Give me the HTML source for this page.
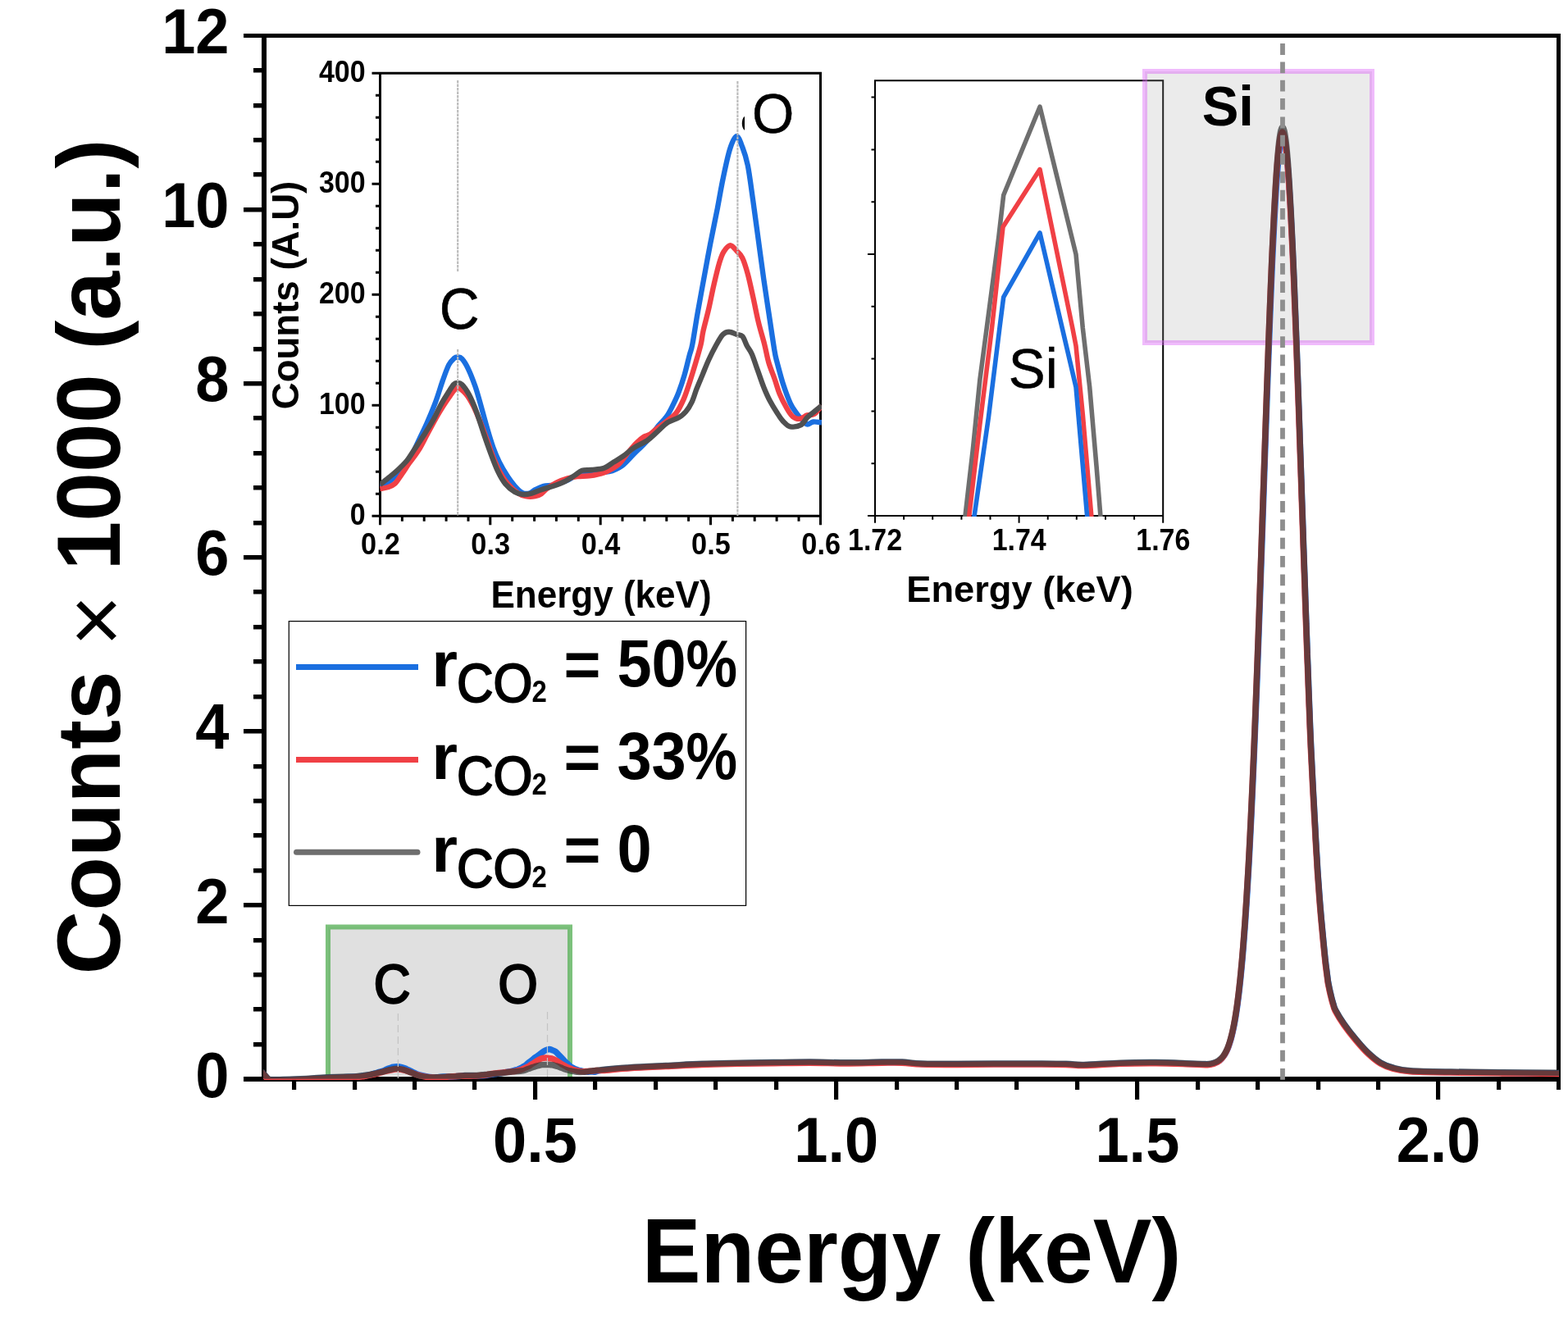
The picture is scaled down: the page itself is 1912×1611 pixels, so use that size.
<!DOCTYPE html>
<html lang="en"><head><meta charset="utf-8"><title>EDS spectra</title>
<style>html,body{margin:0;padding:0;background:#fff;overflow:hidden}svg{display:block}text{font-family:"Liberation Sans",Arial,Helvetica,sans-serif;fill:#000}.b{font-weight:700}</style>
</head><body>
<svg width="1912" height="1611" viewBox="0 0 1912 1611">
<rect width="1912" height="1611" fill="#fff"/>
<g>
<rect x="400" y="1130.6" width="295" height="181.4" fill="#e0e0e0"/>
<path d="M400 1316 V1130.6 H695 V1316" fill="none" stroke="#5fb35f" stroke-opacity="0.82" stroke-width="6"/>
</g>
<g>
<clipPath id="c1"><rect x="463.2" y="89.3" width="538.8" height="540"/></clipPath>
<g stroke="#000" stroke-width="3" fill="none">
<path d="M453.5 89.3 H1000.5 V640.3 H1000.5"/>
<path d="M463.5 89.3 V640.3"/>
<path d="M453.5 629.3 H1000.5"/>
<path d="M458 602.3H463.5M458 575.3H463.5M458 548.3H463.5M458 521.3H463.5M453.5 494.3H463.5M458 467.3H463.5M458 440.3H463.5M458 413.3H463.5M458 386.3H463.5M453.5 359.3H463.5M458 332.3H463.5M458 305.3H463.5M458 278.3H463.5M458 251.3H463.5M453.5 224.3H463.5M458 197.3H463.5M458 170.3H463.5M458 143.3H463.5M458 116.3H463.5M490.4 629.3V635.8M517.2 629.3V635.8M544.1 629.3V635.8M571 629.3V635.8M597.8 629.3V640.3M624.7 629.3V635.8M651.6 629.3V635.8M678.4 629.3V635.8M705.3 629.3V635.8M732.2 629.3V640.3M759 629.3V635.8M785.9 629.3V635.8M812.8 629.3V635.8M839.6 629.3V635.8M866.5 629.3V640.3M893.4 629.3V635.8M920.2 629.3V635.8M947.1 629.3V635.8M974 629.3V635.8"/>
</g>
<g clip-path="url(#c1)" fill="none" stroke-width="6.4" stroke-linejoin="round">
<path d="M463.3 593 C465.6 591.8 472.9 588.7 477 585.5 C481.1 582.3 484.3 578.1 488 574 C491.7 569.9 495.2 566.8 499 560.6 C502.8 554.5 507 544.7 510.6 537.1 C514.2 529.5 517.5 523 520.9 515.2 C524.3 507.4 527.9 498.9 531.1 490.3 C534.3 481.8 537.2 471.5 539.9 463.9 C542.6 456.3 545 449.4 547.3 444.9 C549.6 440.4 552 438.5 553.8 436.9 C555.6 435.3 556.6 435.4 558.2 435.5 C559.8 435.6 561.3 435.3 563.4 437.6 C565.5 439.9 568 443.7 570.7 449.3 C573.4 454.9 576.8 463.5 579.5 471.3 C582.2 479.1 584.4 487.6 586.8 496.1 C589.2 504.6 591.7 514.2 594.1 522.5 C596.5 530.8 599 539.1 601.4 545.9 C603.8 552.7 605.9 557.6 608.8 563.5 C611.7 569.4 615.8 576.2 619 581.1 C622.2 586 624.9 589.5 627.8 592.8 C630.7 596.1 633.7 599.3 636.6 600.8 C639.5 602.3 642.7 602.2 645.4 601.6 C648.1 601 649.8 598.7 652.7 597.2 C655.6 595.7 659.2 593.8 662.9 592.8 C666.6 591.8 670.3 592.5 674.7 591.5 C679.1 590.5 684.9 588.7 689.3 586.9 C693.7 585.1 697.6 582.3 701 580.5 C704.4 578.7 706.4 576.8 709.8 576 C713.2 575.2 716 575.6 721.5 575.5 C727 575.4 736.4 576.5 742.6 575.2 C748.8 573.9 753.6 571.5 758.7 567.9 C763.8 564.2 768.4 558.2 773.3 553.3 C778.2 548.4 783.1 544.2 788 538.6 C792.9 533 798.5 524.7 802.6 519.6 C806.8 514.5 810 512 812.9 507.9 C815.8 503.8 817.8 499.6 820.2 494.7 C822.6 489.8 825.1 485 827.5 478.6 C829.9 472.2 832.6 464.2 834.8 456.6 C837 449 839.1 439.3 840.7 433.2 C842.3 427.1 842.6 428.9 844.3 420 C846 411.1 848.4 394.4 851 379.7 C853.6 365 857.2 345.8 859.7 332 C862.2 318.2 863.7 310.2 866.2 297.2 C868.7 284.2 872.4 266.8 874.9 253.8 C877.4 240.8 878.9 231 881.4 219 C883.9 207 887.2 190.8 890 182 C892.8 173.2 895.6 166.6 898.1 166.2 C900.6 165.8 903 173.6 905.3 179.5 C907.6 185.4 909.6 190.7 911.8 201.6 C914 212.5 916.1 229.9 918.3 245.1 C920.5 260.3 922.6 277 924.8 292.9 C927 308.8 929.1 325.4 931.3 340.6 C933.5 355.8 935.6 369.6 937.8 384.1 C940 398.6 942.8 417.9 944.4 427.5 C946 437.1 945.9 435.2 947.6 442 C949.4 448.8 952.2 460 954.9 468.3 C957.6 476.6 961 485.9 963.7 491.8 C966.4 497.7 968.8 500.3 971 503.5 C973.2 506.7 974.7 508.5 976.9 510.8 C979.1 513.1 981.8 516.8 984.2 517.4 C986.6 518 988.6 514.9 991.5 514.5 C994.4 514.1 1000.1 515.1 1001.8 515.2" stroke="#1a6fe0"/>
<path d="M463.3 596 C464.9 595.7 469.6 595.3 472.6 594.3 C475.6 593.3 478.5 592.6 481.4 589.9 C484.3 587.2 487.2 582.2 490.1 578.1 C493 574 495.5 569.9 498.9 565 C502.3 560.1 506.9 554.8 510.6 548.9 C514.3 543 517.5 536.1 520.9 529.8 C524.3 523.4 527.9 516.4 531.1 510.8 C534.3 505.2 537 500.7 539.9 496.1 C542.8 491.5 545.8 486.8 548.7 483 C551.6 479.2 554.3 473.9 557.5 473.4 C560.7 472.9 564.5 476.4 567.8 480 C571 483.6 574.1 489.1 577 494.7 C579.9 500.3 582.5 506.9 585.3 513.7 C588 520.5 590.8 528.4 593.5 535.7 C596.2 543 598.6 550.8 601.4 557.6 C604.2 564.4 607.3 571.3 610.2 576.7 C613.1 582.1 615.6 585.9 619 589.9 C622.4 593.9 627 598.2 630.7 600.8 C634.4 603.3 637.3 604.5 641 605.2 C644.7 605.9 649.5 605.7 652.7 605.2 C655.9 604.7 657.6 603.9 660 602.3 C662.4 600.7 664.1 598 667.3 595.7 C670.5 593.4 674.9 590.5 679 588.4 C683.1 586.3 688 584.5 692.2 583.3 C696.4 582.1 699.6 581.6 704 581.1 C708.4 580.6 714.2 580.8 718.6 580.3 C723 579.8 726.8 579 730.3 578.1 C733.8 577.2 735.6 577.2 739.6 575.2 C743.6 573.2 749.9 570.3 754.3 566.4 C758.7 562.5 762.3 556.2 766 551.8 C769.7 547.4 773.1 543.3 776.3 540.1 C779.5 536.9 782.3 534.5 785 532.8 C787.7 531.1 789.7 531.5 792.4 529.8 C795.1 528.1 797.7 525.2 801.1 522.5 C804.5 519.8 809 516.9 812.9 513.7 C816.8 510.5 821.2 507.9 824.6 503.5 C828 499.1 830.7 493.5 833.4 487.4 C836.1 481.3 838.3 474.2 840.7 466.9 C843.1 459.6 845.7 451.2 848 443.4 C850.3 435.6 853 426.6 854.6 420 C856.2 413.4 855.9 410.7 857.5 403.6 C859.1 396.5 861.8 387 864 377.6 C866.2 368.2 868.3 356.6 870.5 347.2 C872.7 337.8 875 327.8 877 321.1 C879 314.4 880.2 310.6 882.5 307 C884.8 303.4 887.8 299.3 890.5 299.2 C893.2 299.1 896.3 303.9 898.8 306.5 C901.3 309.1 903.1 310 905.3 314.6 C907.5 319.2 909.6 326.1 911.8 334.1 C914 342.1 916.1 352.6 918.3 362.4 C920.5 372.2 922.5 383.2 924.8 392.8 C927.1 402.4 930.1 411.8 932.2 420 C934.3 428.2 935.2 434.9 937.3 442 C939.4 449.1 942.5 456.2 944.7 462.5 C946.9 468.8 948.1 474.1 950.5 480 C952.9 485.9 956.6 493 959.3 497.6 C962 502.2 963.9 505.7 966.6 507.9 C969.3 510.1 972.5 511.1 975.4 510.8 C978.3 510.6 981.3 507.4 984.2 506.4 C987.1 505.4 990.1 506.8 993 504.9 C995.9 502.9 1000.3 496.4 1001.8 494.7" stroke="#f04045"/>
<path d="M463.3 591 C465.1 589.6 470.5 585.4 474 582.5 C477.5 579.6 480.6 577.2 484.3 573.8 C488 570.4 492.6 566.1 496 562 C499.4 557.9 501.4 554 504.8 548.9 C508.2 543.8 512.6 537.4 516.5 531.3 C520.4 525.2 524.8 518.4 528.2 512.3 C531.6 506.2 534.1 500.1 537 494.7 C539.9 489.3 543.1 484.3 545.8 480 C548.5 475.7 551.1 471.2 553.1 469 C555.1 466.8 555.8 466.9 557.5 466.9 C559.2 466.9 561 466.6 563.4 469 C565.8 471.4 569.2 476 572.1 481.5 C575 487 578 494.2 580.9 502 C583.8 509.8 586.8 519.9 589.7 528.4 C592.6 536.9 595.6 545.5 598.5 553.3 C601.4 561.1 604.4 569.1 607.3 575.2 C610.2 581.3 612.7 585.8 616.1 589.9 C619.5 594 624.1 597.9 627.8 600.1 C631.4 602.3 634.6 602.8 638 603 C641.4 603.2 644.6 602.6 648.3 601.6 C652 600.6 655.6 598.7 660 597.2 C664.4 595.7 669.8 594.5 674.7 592.8 C679.6 591.1 684.9 589.1 689.3 586.9 C693.7 584.7 697.6 581.8 701 579.6 C704.4 577.4 706.4 574.9 709.8 573.8 C713.2 572.7 717 573.5 721.5 573 C726 572.5 732.2 572.4 736.7 570.8 C741.2 569.2 744.5 565.9 748.4 563.5 C752.3 561.1 756 559.1 760.1 556.2 C764.2 553.3 768.4 549.1 773.3 545.9 C778.2 542.7 784.8 540.3 789.4 537.1 C794 533.9 797 530.5 801.1 526.9 C805.2 523.2 809.9 518.1 814.3 515.2 C818.7 512.3 823.8 511.5 827.5 509.3 C831.2 507.1 833.6 505.2 836.3 502 C839 498.8 841.4 494.9 843.6 490.3 C845.8 485.7 847.3 479.8 849.5 474.2 C851.7 468.6 854.4 462.5 856.8 456.6 C859.2 450.7 861.4 444.9 864.1 439 C866.8 433.1 870 426.7 872.9 421.5 C875.8 416.3 878.7 410.8 881.4 408 C884.1 405.2 886.1 404.7 889 404.7 C891.9 404.7 896.1 407.1 898.8 408 C901.5 408.9 903.3 407.9 905.3 410.2 C907.3 412.5 909.1 418.4 911 422 C912.9 425.6 914.6 426.7 916.8 431.7 C919 436.7 921.6 445.4 924.1 452.2 C926.6 459 929 466.6 931.5 472.7 C934 478.8 936.1 483.7 938.8 488.8 C941.5 493.9 944.9 499.4 947.6 503.5 C950.3 507.6 952.2 510.9 954.9 513.7 C957.6 516.5 960 519.6 963.7 520.3 C967.4 521 973.5 519.9 976.9 518.1 C980.3 516.3 981.5 512 984.2 509.3 C986.9 506.6 990.1 504.4 993 502 C995.9 499.6 1000.3 495.9 1001.8 494.7" stroke="#505050"/>
</g>
<g stroke="#b9b9b9" stroke-width="2.1" stroke-dasharray="3.4 1.1" fill="none"><path d="M558.2 98 V332"/><path d="M558.2 426 V629"/><path d="M899.4 99 V629"/></g>
<text class="b" font-size="35" text-anchor="end" transform="translate(445.6 640.1) scale(0.970 1.070)">0</text>
<text class="b" font-size="35" text-anchor="end" transform="translate(445.6 505.1) scale(0.970 1.070)">100</text>
<text class="b" font-size="35" text-anchor="end" transform="translate(445.6 370.1) scale(0.970 1.070)">200</text>
<text class="b" font-size="35" text-anchor="end" transform="translate(445.6 235.1) scale(0.970 1.070)">300</text>
<text class="b" font-size="35" text-anchor="end" transform="translate(445.6 100.1) scale(0.970 1.070)">400</text>
<text class="b" font-size="35" text-anchor="middle" transform="translate(463.9 676) scale(0.980 1.070)">0.2</text>
<text class="b" font-size="35" text-anchor="middle" transform="translate(598.2 676) scale(0.980 1.070)">0.3</text>
<text class="b" font-size="35" text-anchor="middle" transform="translate(732.6 676) scale(0.980 1.070)">0.4</text>
<text class="b" font-size="35" text-anchor="middle" transform="translate(866.9 676) scale(0.980 1.070)">0.5</text>
<text class="b" font-size="35" text-anchor="middle" transform="translate(1001.2 676) scale(0.980 1.070)">0.6</text>
<text class="b" font-size="44.5" text-anchor="middle" transform="translate(733 740.8) scale(0.990 1.030)">Energy (keV)</text>
<text class="b" font-size="45.6" text-anchor="middle" transform="translate(364.2 360) rotate(-90) scale(1.000 1.030)">Counts (A.U)</text>
<text font-size="66" text-anchor="middle" transform="translate(560.1 401.4) scale(1.025 1.070)" stroke="#000" stroke-width="0.5">C</text>
<text font-size="66" text-anchor="middle" transform="translate(942.6 162.4) scale(1.000 1.050)" stroke="#000" stroke-width="0.5">O</text>
<path d="M908 141.8 C905.6 144 904.8 147 904.8 150.5 C904.8 154 905.6 157 908 159.1 Z" fill="#000"/>
</g>
<g>
<clipPath id="c2"><rect x="1067" y="98.2" width="351.2" height="531.8"/></clipPath>
<g stroke="#000" stroke-width="2" fill="none">
<path d="M1067 637.7 V98.2 H1418.2 V637.7"/>
<path d="M1058 629 H1418.2"/>
<path d="M1062.5 565.2H1067M1062.5 501.4H1067M1062.5 437.6H1067M1062.5 373.8H1067M1058 310H1067M1062.5 246.2H1067M1062.5 182.4H1067M1062.5 118.6H1067M1102.1 629V633.7M1137.2 629V633.7M1172.4 629V633.7M1207.5 629V633.7M1242.6 629V637.7M1277.7 629V633.7M1312.8 629V633.7M1348 629V633.7M1383.1 629V633.7"/>
</g>
<g clip-path="url(#c2)" fill="none" stroke-width="5.6" stroke-linejoin="round">
<path d="M1176.5 635 L1177 629 L1186.4 547.4 L1194.8 463.7 L1203.2 400 L1217.8 289.2 L1223.7 238 L1268 130.2 L1312 310.1 L1320.3 400 L1328.7 472 L1337 568.3 L1341.9 629 L1342.4 635" stroke="#6e6e6e"/>
<path d="M1181 635 L1181.8 629 L1194.8 518 L1209.5 400 L1223 276.7 L1268 206.6 L1307.8 400 L1312 421.8 L1320.3 505.5 L1330.8 629 L1331.3 635" stroke="#f04045"/>
<path d="M1187.2 635 L1188.1 629 L1205.3 509.7 L1218.9 400 L1223.7 362.4 L1268 284 L1295.2 400 L1312 472 L1325.6 629 L1326.2 635" stroke="#1a6fe0"/>
</g>
<text class="b" font-size="34.5" text-anchor="middle" transform="translate(1067.1 670.8) scale(0.985 1.080)">1.72</text>
<text class="b" font-size="34.5" text-anchor="middle" transform="translate(1242.7 670.8) scale(0.985 1.080)">1.74</text>
<text class="b" font-size="34.5" text-anchor="middle" transform="translate(1418.3 670.8) scale(0.985 1.080)">1.76</text>
<text class="b" font-size="44.5" text-anchor="middle" transform="translate(1243.5 733.7) scale(1.017 1.000)">Energy (keV)</text>
<text font-size="66" text-anchor="middle" transform="translate(1259.7 472.6) scale(1.020 1.050)" stroke="#000" stroke-width="0.5">Si</text>
</g>
<rect x="1396" y="87" width="277" height="331" fill="#a5a5a5" fill-opacity="0.225"/>
<rect x="1396" y="87" width="277" height="331" fill="none" stroke="#dc5cf7" stroke-opacity="0.42" stroke-width="6"/>
<g>
<rect x="352.3" y="757.6" width="557.3" height="346.8" fill="#fff" stroke="#000" stroke-width="1.2"/>
<path d="M361 813.4 H510" stroke="#1a6fe0" stroke-width="7" stroke-linecap="butt" fill="none"/>
<text class="b" font-size="77" transform="translate(526.3 836.6) scale(1 1.05)"><tspan x="0" font-size="73.3" textLength="31.8" lengthAdjust="spacingAndGlyphs" y="0">r</tspan><tspan x="30.7" font-size="63.3" textLength="92.4" lengthAdjust="spacingAndGlyphs" y="18.5" font-weight="400" stroke="#000" stroke-width="2">CO</tspan><tspan x="122.3" font-size="34.3" textLength="18.3" lengthAdjust="spacingAndGlyphs" y="18.8">2</tspan><tspan font-size="1"> </tspan><tspan x="161.2" font-size="73.3" textLength="45" lengthAdjust="spacingAndGlyphs" y="0">=</tspan><tspan font-size="1"> </tspan><tspan x="226.1" font-size="77" textLength="84.3" lengthAdjust="spacingAndGlyphs" y="0">50</tspan><tspan x="310.1" font-size="77" textLength="62.6" lengthAdjust="spacingAndGlyphs" y="0">%</tspan></text>
<path d="M361 926.4 H510" stroke="#f04045" stroke-width="7" stroke-linecap="butt" fill="none"/>
<text class="b" font-size="77" transform="translate(526.3 949.7) scale(1 1.05)"><tspan x="0" font-size="73.3" textLength="31.8" lengthAdjust="spacingAndGlyphs" y="0">r</tspan><tspan x="30.7" font-size="63.3" textLength="92.4" lengthAdjust="spacingAndGlyphs" y="18.5" font-weight="400" stroke="#000" stroke-width="2">CO</tspan><tspan x="122.3" font-size="34.3" textLength="18.3" lengthAdjust="spacingAndGlyphs" y="18.8">2</tspan><tspan font-size="1"> </tspan><tspan x="161.2" font-size="73.3" textLength="45" lengthAdjust="spacingAndGlyphs" y="0">=</tspan><tspan font-size="1"> </tspan><tspan x="226.1" font-size="77" textLength="84.3" lengthAdjust="spacingAndGlyphs" y="0">33</tspan><tspan x="310.1" font-size="77" textLength="62.6" lengthAdjust="spacingAndGlyphs" y="0">%</tspan></text>
<path d="M361.5 1039.3 H509" stroke="#6e6e6e" stroke-width="7" stroke-linecap="round" fill="none"/>
<text class="b" font-size="77" transform="translate(526.3 1062.6) scale(1 1.05)"><tspan x="0" font-size="73.3" textLength="31.8" lengthAdjust="spacingAndGlyphs" y="0">r</tspan><tspan x="30.7" font-size="63.3" textLength="92.4" lengthAdjust="spacingAndGlyphs" y="18.5" font-weight="400" stroke="#000" stroke-width="2">CO</tspan><tspan x="122.3" font-size="34.3" textLength="18.3" lengthAdjust="spacingAndGlyphs" y="18.8">2</tspan><tspan font-size="1"> </tspan><tspan x="161.2" font-size="73.3" textLength="45" lengthAdjust="spacingAndGlyphs" y="0">=</tspan><tspan font-size="1"> </tspan><tspan x="226.1" font-size="77" textLength="42.2" lengthAdjust="spacingAndGlyphs" y="0">0</tspan></text>
</g>
<path d="M297 41H1903V46H297ZM297 1313H1903V1319H297ZM319 41H325V1319H319ZM1898 41H1903V1329H1898ZM309 1271H320V1276.5H309ZM309 1228H320V1233.5H309ZM309 1186H320V1191.5H309ZM309 1144H320V1149.5H309ZM297 1101H320V1106.5H297ZM309 1059H320V1064.5H309ZM309 1016H320V1021.5H309ZM309 974H320V979.5H309ZM309 932H320V937.5H309ZM297 889H320V894.5H297ZM309 847H320V852.5H309ZM309 804H320V809.5H309ZM309 762H320V767.5H309ZM309 719H320V724.5H309ZM297 677H320V682.5H297ZM309 635H320V640.5H309ZM309 592H320V597.5H309ZM309 550H320V555.5H309ZM309 507H320V512.5H309ZM297 465H320V470.5H297ZM309 423H320V428.5H309ZM309 380H320V385.5H309ZM309 338H320V343.5H309ZM309 295H320V300.5H309ZM297 253H320V258.5H297ZM309 210H320V215.5H309ZM309 168H320V173.5H309ZM309 126H320V131.5H309ZM309 83H320V88.5H309ZM356 1318H361.2V1329H356ZM430 1318H435.2V1329H430ZM503 1318H508.2V1329H503ZM576 1318H581.2V1329H576ZM650 1318H655.2V1341H650ZM723 1318H728.2V1329H723ZM797 1318H802.2V1329H797ZM870 1318H875.2V1329H870ZM944 1318H949.2V1329H944ZM1017 1318H1022.2V1341H1017ZM1091 1318H1096.2V1329H1091ZM1164 1318H1169.2V1329H1164ZM1237 1318H1242.2V1329H1237ZM1311 1318H1316.2V1329H1311ZM1384 1318H1389.2V1341H1384ZM1458 1318H1463.2V1329H1458ZM1531 1318H1536.2V1329H1531ZM1605 1318H1610.2V1329H1605ZM1678 1318H1683.2V1329H1678ZM1751 1318H1756.2V1341H1751ZM1825 1318H1830.2V1329H1825Z" fill="#000"/>
<clipPath id="cm"><rect x="321" y="43" width="1580" height="1274.1"/></clipPath><clipPath id="cmg"><rect x="321" y="43" width="1580" height="1272.8"/></clipPath>
<g fill="none" stroke-width="7.5" stroke-linejoin="round" stroke-linecap="butt">
<path clip-path="url(#cm)" d="M319 1307 C319.7 1307.8 321.6 1310 323 1311.5 C324.4 1313 326 1315.3 327.5 1316.3 C329 1317.3 329.1 1317.2 332 1317.3 C334.9 1317.4 340.3 1317.2 345 1317.1 C349.7 1317 354.2 1316.9 360 1316.6 C365.8 1316.3 373.3 1315.9 380 1315.5 C386.7 1315.1 394.1 1314.6 400 1314.3 C405.9 1314 410.3 1313.9 415.6 1313.7 C420.9 1313.5 428.1 1313.3 432.1 1313.1 C436 1313 437.3 1312.8 439.5 1312.6 C441.8 1312.3 443.5 1312 445.6 1311.7 C447.6 1311.3 449.5 1311.1 451.6 1310.6 C453.6 1310.1 455.9 1309.4 457.9 1308.8 C459.9 1308.2 461.7 1307.7 463.5 1307 C465.4 1306.4 467.4 1305.8 469.1 1305.1 C470.8 1304.4 472.5 1303.6 473.9 1303 C475.4 1302.4 476.7 1301.9 478 1301.5 C479.2 1301.2 480.5 1301 481.5 1300.9 C482.5 1300.8 483.1 1300.8 483.9 1300.8 C484.8 1300.8 485.6 1300.8 486.8 1300.9 C487.9 1301.1 489.3 1301.4 490.8 1301.9 C492.2 1302.3 494.1 1303 495.6 1303.6 C497 1304.2 498.2 1304.9 499.6 1305.5 C500.9 1306.2 502.2 1307 503.6 1307.6 C504.9 1308.3 506.2 1308.9 507.6 1309.5 C508.9 1310 510 1310.4 511.6 1310.8 C513.2 1311.3 515.4 1311.8 517.2 1312.2 C518.9 1312.6 520.4 1312.9 522 1313.1 C523.6 1313.4 525.2 1313.6 526.8 1313.8 C528.4 1313.9 530.1 1313.9 531.6 1313.8 C533.1 1313.8 534 1313.6 535.6 1313.5 C537.2 1313.4 539.2 1313.2 541.2 1313.1 C543.2 1313.1 545.2 1313.1 547.6 1313 C550 1313 553.2 1312.8 555.6 1312.7 C558 1312.5 560.1 1312.3 562 1312.2 C563.9 1312 564.9 1311.9 566.8 1311.8 C568.7 1311.7 570.2 1311.8 573.2 1311.8 C576.2 1311.8 581.4 1311.9 584.7 1311.8 C588.1 1311.7 590.8 1311.5 593.5 1311.2 C596.3 1310.9 598.9 1310.4 601.5 1310 C604.2 1309.6 606.9 1309.3 609.6 1308.9 C612.2 1308.4 615.3 1307.8 617.6 1307.4 C619.8 1307 621.6 1306.8 623.2 1306.5 C624.8 1306.1 625.8 1305.8 627.2 1305.4 C628.5 1305 629.8 1304.7 631.2 1304.2 C632.5 1303.7 634 1303 635.2 1302.4 C636.4 1301.8 637.5 1301.1 638.4 1300.6 C639.2 1300.1 639.4 1300.3 640.3 1299.6 C641.3 1298.9 642.6 1297.6 644 1296.4 C645.4 1295.3 647.4 1293.7 648.8 1292.7 C650.2 1291.6 650.9 1290.9 652.3 1289.9 C653.7 1288.9 655.7 1287.5 657.1 1286.5 C658.5 1285.5 659.3 1284.7 660.6 1283.8 C662 1282.8 663.8 1281.6 665.3 1280.9 C666.9 1280.2 668.4 1279.7 669.8 1279.6 C671.2 1279.6 672.4 1280.2 673.7 1280.7 C674.9 1281.1 676.1 1281.6 677.3 1282.4 C678.4 1283.3 679.6 1284.6 680.8 1285.8 C682 1287 683.2 1288.3 684.4 1289.6 C685.5 1290.8 686.7 1292.1 687.9 1293.3 C689.1 1294.5 690.3 1295.6 691.5 1296.7 C692.7 1297.9 694.2 1299.4 695.1 1300.2 C696 1300.9 695.9 1300.8 696.8 1301.3 C697.8 1301.8 699.3 1302.7 700.8 1303.4 C702.3 1304 704.2 1304.7 705.6 1305.2 C707.1 1305.7 708.4 1305.9 709.6 1306.1 C710.8 1306.4 711.6 1306.5 712.8 1306.7 C714 1306.9 715.5 1307.2 716.8 1307.2 C718.2 1307.3 719.2 1307 720.8 1307 C722.4 1307 724.1 1307.4 726.5 1307 C728.8 1306.7 728.1 1305.7 735 1304.9 C741.9 1304.1 755.1 1303 767.9 1302.2 C780.7 1301.4 797.2 1300.7 811.8 1300 C826.4 1299.3 841.1 1298.3 855.7 1297.8 C870.4 1297.2 885.1 1297 899.7 1296.7 C914.4 1296.4 929 1296.3 943.6 1296.1 C958.2 1295.9 973 1295.6 987.6 1295.6 C1002.2 1295.6 1016.9 1296.3 1031.5 1296.3 C1046.1 1296.3 1064 1295.7 1075.4 1295.6 C1086.8 1295.5 1091.9 1295.3 1100 1295.6 C1108.1 1295.9 1112.6 1297 1123.9 1297.4 C1135.2 1297.8 1153.2 1297.8 1167.9 1297.8 C1182.6 1297.8 1197.2 1297.5 1211.8 1297.4 C1226.4 1297.3 1241 1297.3 1255.7 1297.4 C1270.4 1297.5 1288.7 1297.5 1299.7 1297.8 C1310.7 1298 1310.6 1299.1 1321.6 1298.9 C1332.6 1298.7 1350.9 1297.2 1365.6 1296.7 C1380.2 1296.2 1394.9 1296 1409.5 1296.1 C1424.1 1296.2 1443.3 1297.1 1453.4 1297.4 C1463.5 1297.7 1466.5 1298 1470 1298.1 C1473.5 1298.2 1473.2 1298 1474.3 1297.9 C1475.3 1297.8 1475.6 1297.7 1476.3 1297.6 C1477 1297.5 1477.6 1297.4 1478.3 1297.2 C1479 1297 1479.6 1296.9 1480.3 1296.7 C1481 1296.5 1481.6 1296.2 1482.3 1296 C1483 1295.7 1483.6 1295.4 1484.3 1295 C1485 1294.7 1485.6 1294.3 1486.3 1293.8 C1487 1293.4 1487.6 1292.9 1488.3 1292.3 C1489 1291.7 1489.6 1291 1490.3 1290.3 C1491 1289.5 1491.6 1288.7 1492.3 1287.8 C1493 1286.8 1493.6 1285.8 1494.3 1284.6 C1495 1283.4 1495.6 1282.1 1496.3 1280.7 C1497 1279.2 1497.6 1277.6 1498.3 1275.8 C1499 1273.9 1499.6 1272 1500.3 1269.7 C1501 1267.5 1501.6 1265.1 1502.3 1262.4 C1503 1259.7 1503.6 1256.8 1504.3 1253.5 C1505 1250.3 1505.6 1246.8 1506.3 1242.9 C1507 1239 1507.6 1234.8 1508.3 1230.2 C1509 1225.6 1509.6 1220.7 1510.3 1215.3 C1511 1209.9 1511.6 1204.1 1512.3 1197.8 C1513 1191.6 1513.6 1184.9 1514.3 1177.6 C1515 1170.4 1515.6 1162.6 1516.3 1154.4 C1517 1146.1 1517.6 1137.3 1518.3 1127.9 C1519 1118.5 1519.6 1108.6 1520.3 1098 C1521 1087.4 1521.6 1076.3 1522.3 1064.6 C1523 1052.8 1523.8 1037.7 1524.3 1027.5 C1524.8 1017.4 1525.1 1011.8 1525.5 1003.6 C1525.9 995.4 1526.3 986.9 1526.7 978.3 C1527.1 969.7 1527.5 960.8 1527.9 951.8 C1528.3 942.7 1528.7 933.5 1529.1 924 C1529.5 914.6 1529.9 904.9 1530.3 895.1 C1530.7 885.3 1531.1 875.2 1531.5 865 C1531.9 854.9 1532.3 844.5 1532.7 834 C1533.1 823.5 1533.5 812.8 1533.9 802 C1534.3 791.2 1534.7 780.2 1535.1 769.1 C1535.5 758.1 1535.9 746.9 1536.3 735.6 C1536.7 724.3 1537.1 712.9 1537.5 701.4 C1537.9 690 1538.3 678.4 1538.7 666.9 C1539.1 655.3 1539.5 643.7 1539.9 632 C1540.3 620.4 1540.7 608.7 1541.1 597.1 C1541.5 585.5 1541.9 573.8 1542.3 562.2 C1542.7 550.7 1543.1 539.1 1543.5 527.6 C1543.9 516.2 1544.3 504.8 1544.7 493.5 C1545.1 482.2 1545.5 471 1545.9 460 C1546.3 449 1546.7 438.1 1547.1 427.4 C1547.5 416.7 1547.9 406.2 1548.3 395.9 C1548.7 385.6 1549.2 373.5 1549.5 365.6 C1549.8 357.8 1549.8 359.1 1550.2 348.7 C1550.6 338.3 1551.5 317.5 1552.2 303.3 C1552.9 289.1 1553.5 275.6 1554.2 263.2 C1554.9 250.9 1555.5 239.4 1556.2 229.2 C1556.9 219 1557.5 209.9 1558.2 202 C1558.9 194.2 1559.5 187.5 1560.2 182.1 C1560.9 176.8 1561.5 172.7 1562.2 170.1 C1562.9 167.4 1563.5 166 1564.2 166 C1564.9 166 1565.5 167.4 1566.2 170.1 C1566.9 172.7 1567.5 176.8 1568.2 182.1 C1568.9 187.5 1569.5 194.2 1570.2 202 C1570.9 209.9 1571.5 219 1572.2 229.2 C1572.9 239.4 1573.5 250.9 1574.2 263.2 C1574.9 275.6 1575.5 289.1 1576.2 303.3 C1576.9 317.5 1577.8 339.5 1578.2 348.7 C1578.6 357.9 1578.4 354.6 1578.6 358.6 C1578.7 362.5 1579 367.8 1579.1 372.4 C1579.3 377.1 1579.5 381.7 1579.7 386.3 C1579.9 390.9 1580.1 395.6 1580.2 400.2 C1580.4 404.8 1580.6 409.4 1580.8 414.1 C1580.9 418.7 1581.1 423.3 1581.3 427.9 C1581.5 432.6 1581.6 437.2 1581.8 441.8 C1582 446.4 1582.1 451.1 1582.3 455.7 C1582.5 460.3 1582.6 464.9 1582.8 469.6 C1583 474.2 1583.1 478.8 1583.3 483.4 C1583.5 488.1 1583.6 492.7 1583.8 497.3 C1584 501.9 1584.1 506.6 1584.3 511.2 C1584.4 515.8 1584.6 520.4 1584.8 525.1 C1584.9 529.7 1585.1 534.3 1585.2 538.9 C1585.4 543.6 1585.6 548.2 1585.7 552.8 C1585.9 557.4 1586 562.1 1586.2 566.7 C1586.4 571.3 1586.5 575.9 1586.7 580.6 C1586.8 585.2 1587 589.8 1587.2 594.4 C1587.3 599.1 1587.5 603.7 1587.6 608.3 C1587.8 613 1587.9 617.6 1588.1 622.2 C1588.3 626.8 1588.4 631.5 1588.6 636.1 C1588.7 640.7 1588.9 645.3 1589.1 650 C1589.2 654.6 1589.4 659.2 1589.5 663.8 C1589.7 668.5 1589.8 673.1 1590 677.7 C1590.2 682.3 1590.3 687 1590.5 691.6 C1590.6 696.2 1590.8 700.8 1591 705.5 C1591.1 710.1 1591.3 714.7 1591.5 719.3 C1591.6 724 1591.8 728.6 1591.9 733.2 C1592.1 737.8 1592.3 742.5 1592.4 747.1 C1592.6 751.7 1592.8 756.3 1592.9 761 C1593.1 765.6 1593.3 770.2 1593.4 774.8 C1593.6 779.5 1593.8 784.1 1593.9 788.7 C1594.1 793.4 1594.3 798 1594.4 802.6 C1594.6 807.2 1594.8 811.9 1595 816.5 C1595.1 821.1 1595.3 825.7 1595.5 830.4 C1595.6 835 1595.8 839.6 1596 844.2 C1596.2 848.9 1596.4 853.5 1596.5 858.1 C1596.7 862.7 1596.9 867.4 1597.1 872 C1597.3 876.6 1597.4 881.2 1597.6 885.9 C1597.8 890.5 1598 895.1 1598.2 899.7 C1598.4 904.4 1598.6 909 1598.8 913.6 C1599 918.2 1599.3 922.9 1599.5 927.5 C1599.7 932.1 1600 936.7 1600.2 941.4 C1600.4 946 1600.7 950.6 1600.9 955.2 C1601.1 959.9 1601.4 964.5 1601.6 969.1 C1601.9 973.8 1602.1 978.4 1602.4 983 C1602.6 987.6 1602.9 992.3 1603.1 996.9 C1603.4 1001.5 1603.6 1006.1 1603.9 1010.7 C1604.1 1015.4 1604.4 1020 1604.6 1024.6 C1604.9 1029.2 1605.2 1033.9 1605.4 1038.5 C1605.7 1043.1 1606 1047.7 1606.3 1052.3 C1606.5 1057 1606.8 1061.6 1607.1 1066.2 C1607.4 1070.8 1607.8 1075.5 1608.1 1080.1 C1608.4 1084.7 1608.8 1089.3 1609.1 1093.9 C1609.5 1098.6 1609.8 1103.2 1610.2 1107.8 C1610.6 1112.4 1611 1117 1611.4 1121.7 C1611.8 1126.3 1612.3 1130.9 1612.7 1135.5 C1613.1 1140.2 1613.6 1144.8 1614 1149.4 C1614.5 1154 1615 1159.8 1615.4 1163.3 C1615.7 1166.7 1615.9 1167.9 1616.1 1170.2 C1616.4 1172.5 1616.6 1174.8 1616.9 1177.1 C1617.2 1179.4 1617.5 1181.8 1617.8 1184.1 C1618.1 1186.4 1618.4 1188.7 1618.7 1191 C1619 1193.3 1619.3 1195.6 1619.6 1197.9 C1620 1200.2 1620.5 1202.5 1621 1204.9 C1621.4 1207.2 1622 1209.5 1622.5 1211.8 C1623.1 1214.1 1623.6 1216.4 1624.2 1218.7 C1624.8 1221 1625.4 1223.3 1626.2 1225.7 C1626.9 1228 1626.5 1228.6 1628.7 1232.6 C1630.8 1236.5 1634.9 1243.4 1639.1 1249.4 C1643.3 1255.4 1649 1262.6 1654 1268.5 C1659 1274.4 1663.9 1280.1 1668.9 1284.7 C1673.9 1289.4 1678.8 1293.6 1683.8 1296.5 C1688.8 1299.5 1692.6 1300.9 1698.7 1302.5 C1704.8 1304.1 1708.5 1305.4 1720.3 1306.2 C1732 1307 1750.6 1307.2 1769.2 1307.5 C1787.8 1307.8 1810 1308.1 1832 1308.3 C1854 1308.5 1888.6 1308.7 1901 1308.8 C1913.4 1308.9 1905.4 1308.8 1906.3 1308.8" stroke="#1a6fe0"/>
<path clip-path="url(#cm)" d="M319 1307.6 C319.7 1308.3 321.6 1310.5 323 1312.1 C324.4 1313.6 326 1315.9 327.5 1316.9 C329 1317.9 329.1 1317.8 332 1317.9 C334.9 1318 340.3 1317.8 345 1317.7 C349.7 1317.6 354.2 1317.5 360 1317.2 C365.8 1316.9 373.3 1316.5 380 1316.1 C386.7 1315.7 394.1 1315.2 400 1314.9 C405.9 1314.6 410.3 1314.6 415.6 1314.3 C420.9 1314 428.5 1313.6 432.1 1313.4 C435.6 1313.2 435.5 1313.3 437.1 1313.3 C438.8 1313.2 440.4 1313.1 441.9 1312.9 C443.5 1312.7 445.1 1312.3 446.7 1312 C448.3 1311.7 449.6 1311.3 451.5 1311 C453.4 1310.6 455.9 1310.1 457.9 1309.7 C459.9 1309.2 461.7 1308.7 463.5 1308.2 C465.4 1307.7 467.4 1307.1 469.1 1306.7 C470.8 1306.3 472.3 1305.9 473.9 1305.5 C475.5 1305.2 477.1 1304.8 478.7 1304.5 C480.3 1304.2 481.8 1303.8 483.6 1303.8 C485.3 1303.7 487.4 1304 489.2 1304.3 C491 1304.6 492.6 1305 494.2 1305.4 C495.8 1305.9 497.2 1306.4 498.7 1306.9 C500.3 1307.5 501.8 1308.1 503.2 1308.7 C504.7 1309.2 506 1309.8 507.6 1310.4 C509.1 1310.9 510.8 1311.4 512.4 1311.9 C514 1312.3 515.3 1312.6 517.2 1312.9 C519 1313.2 521.6 1313.6 523.6 1313.8 C525.6 1314 527.2 1314.1 529.2 1314.1 C531.2 1314.2 533.9 1314.1 535.6 1314.1 C537.3 1314.1 538.3 1314 539.6 1313.9 C540.9 1313.8 541.8 1313.5 543.6 1313.4 C545.3 1313.2 547.7 1313 550 1312.8 C552.2 1312.6 554.9 1312.5 557.2 1312.4 C559.5 1312.3 561.2 1312.3 563.6 1312.2 C566.1 1312.2 569.2 1312.2 571.6 1312.2 C574 1312.1 576.1 1312 578 1312 C579.9 1311.9 580.9 1311.9 583.1 1311.8 C585.3 1311.6 588.7 1311.4 591.1 1311.1 C593.5 1310.8 595.5 1310.3 597.5 1309.9 C599.5 1309.6 601.4 1309.2 603.2 1309 C604.9 1308.7 606.5 1308.6 607.9 1308.4 C609.4 1308.3 610.5 1308.3 612 1308.2 C613.4 1308.1 614.9 1307.8 616.7 1307.6 C618.6 1307.4 621 1307.2 623.2 1306.9 C625.3 1306.7 627.7 1306.5 629.6 1306.1 C631.4 1305.8 632.9 1305.3 634.4 1304.9 C635.9 1304.4 637 1303.8 638.4 1303.2 C639.7 1302.7 641.1 1302 642.4 1301.4 C643.6 1300.8 645.1 1300.1 646 1299.6 C646.8 1299 646.7 1298.8 647.6 1298.3 C648.4 1297.7 649.9 1297 651.1 1296.2 C652.3 1295.5 653.5 1294.6 654.7 1293.8 C655.9 1293.1 657.1 1292.3 658.2 1291.8 C659.3 1291.3 660 1291 661.2 1290.7 C662.5 1290.4 664.1 1290.1 665.6 1290.1 C667.1 1290.1 668.8 1290.5 670.1 1290.7 C671.5 1290.9 672.5 1290.9 673.7 1291.3 C674.9 1291.7 676.1 1292.2 677.3 1292.8 C678.4 1293.4 679.6 1294.3 680.8 1295 C682 1295.8 683.1 1296.7 684.4 1297.4 C685.6 1298.2 687.3 1298.9 688.4 1299.6 C689.5 1300.2 690.1 1300.7 691.2 1301.3 C692.3 1301.8 694 1302.4 695.2 1302.9 C696.4 1303.4 697.1 1303.8 698.4 1304.3 C699.7 1304.7 701.8 1305.3 703.2 1305.7 C704.7 1306 705.7 1306.3 707.2 1306.5 C708.7 1306.6 710.4 1306.7 712 1306.7 C713.6 1306.7 715.2 1306.4 716.8 1306.4 C718.4 1306.3 720 1306.4 721.6 1306.2 C723.2 1306.1 724.2 1305.6 726.5 1305.4 C728.7 1305.3 728.1 1305.9 735 1305.5 C741.9 1305.1 755.1 1303.6 767.9 1302.8 C780.7 1302 797.2 1301.3 811.8 1300.6 C826.4 1299.9 841.1 1298.9 855.7 1298.4 C870.4 1297.8 885.1 1297.6 899.7 1297.3 C914.4 1297 929 1296.9 943.6 1296.7 C958.2 1296.5 973 1296.2 987.6 1296.2 C1002.2 1296.2 1016.9 1296.9 1031.5 1296.9 C1046.1 1296.9 1064 1296.3 1075.4 1296.2 C1086.8 1296.1 1091.9 1295.9 1100 1296.2 C1108.1 1296.5 1112.6 1297.6 1123.9 1298 C1135.2 1298.4 1153.2 1298.4 1167.9 1298.4 C1182.6 1298.4 1197.2 1298.1 1211.8 1298 C1226.4 1297.9 1241 1297.9 1255.7 1298 C1270.4 1298.1 1288.7 1298.1 1299.7 1298.4 C1310.7 1298.6 1310.6 1299.7 1321.6 1299.5 C1332.6 1299.3 1350.9 1297.8 1365.6 1297.3 C1380.2 1296.8 1394.9 1296.6 1409.5 1296.7 C1424.1 1296.8 1443.3 1297.7 1453.4 1298 C1463.5 1298.3 1466.6 1298.6 1470 1298.7 C1473.4 1298.8 1472.8 1298.6 1473.8 1298.5 C1474.8 1298.4 1475.1 1298.3 1475.8 1298.2 C1476.5 1298.1 1477.1 1297.9 1477.8 1297.8 C1478.5 1297.6 1479.1 1297.5 1479.8 1297.3 C1480.5 1297 1481.1 1296.8 1481.8 1296.5 C1482.5 1296.3 1483.1 1296 1483.8 1295.6 C1484.5 1295.3 1485.1 1294.9 1485.8 1294.4 C1486.5 1293.9 1487.1 1293.4 1487.8 1292.8 C1488.5 1292.3 1489.1 1291.6 1489.8 1290.9 C1490.5 1290.1 1491.1 1289.3 1491.8 1288.3 C1492.5 1287.4 1493.1 1286.3 1493.8 1285.1 C1494.5 1284 1495.1 1282.7 1495.8 1281.2 C1496.5 1279.7 1497.1 1278.1 1497.8 1276.3 C1498.5 1274.4 1499.1 1272.4 1499.8 1270.2 C1500.5 1268 1501.1 1265.5 1501.8 1262.8 C1502.5 1260.1 1503.1 1257.2 1503.8 1253.9 C1504.5 1250.6 1505.1 1247.1 1505.8 1243.2 C1506.5 1239.3 1507.1 1235.1 1507.8 1230.5 C1508.5 1225.9 1509.1 1220.9 1509.8 1215.5 C1510.5 1210.1 1511.1 1204.3 1511.8 1198 C1512.5 1191.7 1513.1 1184.9 1513.8 1177.7 C1514.5 1170.4 1515.1 1162.6 1515.8 1154.3 C1516.5 1146 1517.1 1137.2 1517.8 1127.7 C1518.5 1118.3 1519.1 1108.3 1519.8 1097.7 C1520.5 1087.1 1521.1 1075.9 1521.8 1064.1 C1522.5 1052.3 1523.3 1037.2 1523.8 1026.9 C1524.3 1016.7 1524.6 1011.1 1525 1002.9 C1525.4 994.6 1525.8 986.1 1526.2 977.5 C1526.6 968.8 1527 959.9 1527.4 950.8 C1527.8 941.7 1528.2 932.4 1528.6 922.9 C1529 913.4 1529.4 903.7 1529.8 893.8 C1530.2 883.9 1530.6 873.8 1531 863.6 C1531.4 853.4 1531.8 842.9 1532.2 832.4 C1532.6 821.8 1533 811 1533.4 800.2 C1533.8 789.3 1534.2 778.3 1534.6 767.2 C1535 756 1535.4 744.8 1535.8 733.4 C1536.2 722.1 1536.6 710.6 1537 699.1 C1537.4 687.6 1537.8 676 1538.2 664.4 C1538.6 652.7 1539 641 1539.4 629.3 C1539.8 617.6 1540.2 605.9 1540.6 594.2 C1541 582.5 1541.4 570.8 1541.8 559.1 C1542.2 547.5 1542.6 535.9 1543 524.4 C1543.4 512.8 1543.8 501.4 1544.2 490 C1544.6 478.7 1545 467.5 1545.4 456.4 C1545.8 445.3 1546.2 434.3 1546.6 423.6 C1547 412.9 1547.4 402.2 1547.8 391.9 C1548.2 381.6 1548.7 369.4 1549 361.5 C1549.3 353.6 1549.3 354.9 1549.7 344.5 C1550.1 334 1551 313.2 1551.7 298.9 C1552.4 284.6 1553 271 1553.7 258.6 C1554.4 246.2 1555 234.7 1555.7 224.5 C1556.4 214.2 1557 205 1557.7 197.2 C1558.4 189.3 1559 182.6 1559.7 177.2 C1560.4 171.9 1561 167.8 1561.7 165.1 C1562.4 162.4 1563 161 1563.7 161 C1564.4 161 1565 162.4 1565.7 165.1 C1566.4 167.8 1567 171.9 1567.7 177.2 C1568.4 182.6 1569 189.3 1569.7 197.2 C1570.4 205 1571 214.2 1571.7 224.5 C1572.4 234.7 1573 246.2 1573.7 258.6 C1574.4 271 1575 284.6 1575.7 298.9 C1576.4 313.2 1577.3 335.2 1577.7 344.5 C1578.1 353.7 1577.9 350.4 1578.1 354.4 C1578.2 358.4 1578.5 363.7 1578.6 368.4 C1578.8 373 1579 377.6 1579.2 382.3 C1579.4 386.9 1579.6 391.6 1579.7 396.2 C1579.9 400.9 1580.1 405.5 1580.3 410.2 C1580.4 414.8 1580.6 419.5 1580.8 424.1 C1581 428.8 1581.1 433.4 1581.3 438.1 C1581.5 442.7 1581.6 447.4 1581.8 452 C1582 456.7 1582.1 461.3 1582.3 466 C1582.5 470.6 1582.6 475.3 1582.8 479.9 C1583 484.6 1583.1 489.2 1583.3 493.9 C1583.5 498.5 1583.6 503.2 1583.8 507.8 C1583.9 512.5 1584.1 517.1 1584.3 521.8 C1584.4 526.4 1584.6 531.1 1584.7 535.7 C1584.9 540.4 1585.1 545 1585.2 549.7 C1585.4 554.3 1585.5 559 1585.7 563.6 C1585.9 568.3 1586 572.9 1586.2 577.6 C1586.3 582.2 1586.5 586.9 1586.7 591.5 C1586.8 596.2 1587 600.8 1587.1 605.5 C1587.3 610.1 1587.4 614.8 1587.6 619.4 C1587.8 624.1 1587.9 628.7 1588.1 633.4 C1588.2 638 1588.4 642.7 1588.6 647.3 C1588.7 652 1588.9 656.6 1589 661.3 C1589.2 665.9 1589.3 670.6 1589.5 675.2 C1589.7 679.9 1589.8 684.5 1590 689.2 C1590.1 693.8 1590.3 698.5 1590.5 703.1 C1590.6 707.8 1590.8 712.4 1591 717.1 C1591.1 721.7 1591.3 726.4 1591.4 731.1 C1591.6 735.7 1591.8 740.4 1591.9 745 C1592.1 749.7 1592.3 754.3 1592.4 759 C1592.6 763.6 1592.8 768.3 1592.9 772.9 C1593.1 777.6 1593.3 782.2 1593.4 786.9 C1593.6 791.5 1593.8 796.2 1593.9 800.8 C1594.1 805.5 1594.3 810.1 1594.5 814.8 C1594.6 819.4 1594.8 824.1 1595 828.7 C1595.1 833.4 1595.3 838 1595.5 842.7 C1595.7 847.3 1595.9 852 1596 856.6 C1596.2 861.3 1596.4 865.9 1596.6 870.6 C1596.8 875.2 1596.9 879.9 1597.1 884.5 C1597.3 889.2 1597.5 893.8 1597.7 898.5 C1597.9 903.1 1598.1 907.8 1598.3 912.4 C1598.5 917.1 1598.8 921.7 1599 926.4 C1599.2 931 1599.5 935.7 1599.7 940.3 C1599.9 945 1600.2 949.6 1600.4 954.3 C1600.6 958.9 1600.9 963.6 1601.1 968.2 C1601.4 972.9 1601.6 977.5 1601.9 982.2 C1602.1 986.8 1602.4 991.5 1602.6 996.1 C1602.9 1000.8 1603.1 1005.4 1603.4 1010.1 C1603.6 1014.7 1603.9 1019.4 1604.1 1024 C1604.4 1028.6 1604.7 1033.3 1604.9 1037.9 C1605.2 1042.6 1605.5 1047.2 1605.8 1051.9 C1606 1056.5 1606.3 1061.1 1606.6 1065.8 C1606.9 1070.4 1607.3 1075.1 1607.6 1079.7 C1607.9 1084.3 1608.3 1089 1608.6 1093.6 C1609 1098.3 1609.3 1102.9 1609.7 1107.6 C1610.1 1112.2 1610.5 1116.8 1610.9 1121.5 C1611.3 1126.1 1611.8 1130.8 1612.2 1135.4 C1612.6 1140.1 1613.1 1144.7 1613.5 1149.3 C1614 1154 1614.5 1159.8 1614.9 1163.3 C1615.2 1166.7 1615.4 1167.9 1615.6 1170.2 C1615.9 1172.6 1616.1 1174.9 1616.4 1177.2 C1616.7 1179.5 1617 1181.8 1617.3 1184.2 C1617.6 1186.5 1617.9 1188.8 1618.2 1191.1 C1618.5 1193.4 1618.8 1195.8 1619.1 1198.1 C1619.5 1200.4 1620 1202.7 1620.5 1205 C1620.9 1207.4 1621.5 1209.7 1622 1212 C1622.6 1214.3 1623.1 1216.7 1623.7 1219 C1624.3 1221.3 1624.9 1223.6 1625.7 1225.9 C1626.4 1228.3 1626 1228.9 1628.2 1232.9 C1630.3 1236.9 1634.4 1243.8 1638.6 1249.8 C1642.8 1255.8 1648.5 1263 1653.5 1269 C1658.5 1274.9 1663.4 1280.6 1668.4 1285.3 C1673.4 1290 1678.3 1294.1 1683.3 1297.1 C1688.3 1300.1 1692.1 1301.5 1698.2 1303.1 C1704.3 1304.7 1708 1306 1719.8 1306.8 C1731.5 1307.6 1750.1 1307.8 1768.7 1308.1 C1787.3 1308.4 1809.5 1308.7 1831.5 1308.9 C1853.5 1309.1 1888.1 1309.3 1900.5 1309.4 C1912.9 1309.5 1904.9 1309.4 1905.8 1309.4" stroke="#f04045"/>
<path clip-path="url(#cmg)" d="M319 1306.5 C319.7 1307.2 321.6 1309.5 323 1311 C324.4 1312.5 326 1314.8 327.5 1315.8 C329 1316.8 329.1 1316.7 332 1316.8 C334.9 1316.9 340.3 1316.7 345 1316.6 C349.7 1316.5 354.2 1316.4 360 1316.1 C365.8 1315.8 373.3 1315.4 380 1315 C386.7 1314.6 394.1 1314.1 400 1313.8 C405.9 1313.5 410.3 1313.3 415.6 1313.2 C420.9 1313.1 428.3 1313.1 432.1 1313 C435.8 1312.8 436 1312.6 437.9 1312.3 C439.8 1312.1 441.5 1311.9 443.5 1311.6 C445.5 1311.4 448.1 1311 449.9 1310.7 C451.8 1310.4 452.9 1310.1 454.7 1309.7 C456.6 1309.3 459 1308.8 461.1 1308.3 C463.3 1307.8 465.7 1307.3 467.5 1306.8 C469.4 1306.3 470.7 1305.9 472.3 1305.4 C473.9 1305 475.7 1304.6 477.2 1304.3 C478.6 1303.9 480.1 1303.6 481.1 1303.4 C482.2 1303.2 482.6 1303.2 483.6 1303.2 C484.5 1303.2 485.4 1303.2 486.8 1303.4 C488.1 1303.6 489.9 1304 491.5 1304.4 C493.1 1304.8 494.7 1305.4 496.3 1306 C497.9 1306.6 499.6 1307.4 501.2 1308.1 C502.8 1308.7 504.4 1309.4 506 1310 C507.6 1310.6 509.2 1311.3 510.8 1311.8 C512.4 1312.2 513.7 1312.6 515.6 1312.9 C517.5 1313.2 520 1313.5 522 1313.7 C524 1313.9 525.7 1313.9 527.6 1313.9 C529.4 1314 531.2 1313.9 533.2 1313.8 C535.2 1313.7 537.2 1313.6 539.6 1313.5 C542 1313.4 545 1313.3 547.6 1313.1 C550.3 1313 553.2 1312.8 555.6 1312.7 C558 1312.5 560.1 1312.3 562 1312.1 C563.9 1311.9 564.9 1311.7 566.8 1311.6 C568.7 1311.6 570.8 1311.6 573.2 1311.6 C575.7 1311.5 579.1 1311.5 581.5 1311.4 C584 1311.3 585.8 1311 587.9 1310.8 C590.1 1310.6 592 1310.5 594.3 1310.3 C596.6 1310 598.9 1309.7 601.5 1309.5 C604.2 1309.2 607.8 1309 610.3 1308.8 C612.9 1308.5 614.5 1308.2 616.7 1308 C619 1307.7 621.5 1307.3 623.9 1307 C626.4 1306.8 629.2 1306.8 631.2 1306.6 C633.2 1306.4 634.5 1306.3 636 1306 C637.4 1305.8 638.8 1305.4 640 1305.1 C641.2 1304.7 642 1304.3 643.2 1303.8 C644.4 1303.4 645.9 1302.9 647.2 1302.4 C648.5 1302 649.7 1301.5 651.2 1301.1 C652.6 1300.6 654.4 1300.1 656 1299.7 C657.6 1299.3 659.2 1298.8 660.6 1298.6 C662.1 1298.4 663.2 1298.4 664.8 1298.4 C666.4 1298.4 668.7 1298.6 670.1 1298.6 C671.6 1298.7 672.6 1298.6 673.7 1298.8 C674.8 1299 675.8 1299.4 676.8 1299.7 C677.9 1300 678.8 1300.1 680 1300.5 C681.2 1300.9 682.6 1301.6 684 1302.1 C685.3 1302.6 686.7 1303.2 688 1303.7 C689.4 1304.2 690.5 1304.6 692 1305 C693.5 1305.4 695.4 1305.8 696.8 1306.1 C698.3 1306.4 699.3 1306.7 700.8 1306.9 C702.3 1307.1 703.6 1307.4 705.6 1307.4 C707.6 1307.5 711 1307.4 712.8 1307.3 C714.7 1307.1 715.4 1306.8 716.8 1306.6 C718.3 1306.4 720 1306.2 721.6 1306 C723.2 1305.8 724.2 1305.7 726.5 1305.4 C728.7 1305.2 728.1 1305 735 1304.4 C741.9 1303.8 755.1 1302.5 767.9 1301.7 C780.7 1300.9 797.2 1300.2 811.8 1299.5 C826.4 1298.8 841.1 1297.8 855.7 1297.3 C870.4 1296.8 885.1 1296.5 899.7 1296.2 C914.4 1295.9 929 1295.8 943.6 1295.6 C958.2 1295.4 973 1295.1 987.6 1295.1 C1002.2 1295.1 1016.9 1295.8 1031.5 1295.8 C1046.1 1295.8 1064 1295.2 1075.4 1295.1 C1086.8 1295 1091.9 1294.8 1100 1295.1 C1108.1 1295.4 1112.6 1296.5 1123.9 1296.9 C1135.2 1297.3 1153.2 1297.3 1167.9 1297.3 C1182.6 1297.3 1197.2 1297 1211.8 1296.9 C1226.4 1296.8 1241 1296.8 1255.7 1296.9 C1270.4 1297 1288.7 1297 1299.7 1297.3 C1310.7 1297.5 1310.6 1298.6 1321.6 1298.4 C1332.6 1298.2 1350.9 1296.7 1365.6 1296.2 C1380.2 1295.7 1394.9 1295.5 1409.5 1295.6 C1424.1 1295.7 1443.3 1296.6 1453.4 1296.9 C1463.5 1297.2 1466.6 1297.5 1470 1297.6 C1473.4 1297.7 1473 1297.5 1474 1297.4 C1475 1297.3 1475.3 1297.2 1476 1297.1 C1476.7 1297 1477.3 1296.8 1478 1296.7 C1478.7 1296.5 1479.3 1296.4 1480 1296.1 C1480.7 1295.9 1481.3 1295.7 1482 1295.4 C1482.7 1295.2 1483.3 1294.9 1484 1294.5 C1484.7 1294.1 1485.3 1293.7 1486 1293.3 C1486.7 1292.8 1487.3 1292.3 1488 1291.7 C1488.7 1291.1 1489.3 1290.5 1490 1289.7 C1490.7 1289 1491.3 1288.1 1492 1287.2 C1492.7 1286.2 1493.3 1285.2 1494 1284 C1494.7 1282.8 1495.3 1281.5 1496 1280 C1496.7 1278.5 1497.3 1276.9 1498 1275 C1498.7 1273.2 1499.3 1271.2 1500 1268.9 C1500.7 1266.7 1501.3 1264.3 1502 1261.5 C1502.7 1258.8 1503.3 1255.9 1504 1252.6 C1504.7 1249.3 1505.3 1245.7 1506 1241.8 C1506.7 1237.9 1507.3 1233.7 1508 1229 C1508.7 1224.4 1509.3 1219.4 1510 1214 C1510.7 1208.5 1511.3 1202.7 1512 1196.4 C1512.7 1190 1513.3 1183.2 1514 1175.9 C1514.7 1168.6 1515.3 1160.8 1516 1152.5 C1516.7 1144.1 1517.3 1135.2 1518 1125.7 C1518.7 1116.2 1519.3 1106.2 1520 1095.6 C1520.7 1084.9 1521.3 1073.7 1522 1061.8 C1522.7 1049.9 1523.5 1034.7 1524 1024.4 C1524.5 1014.1 1524.8 1008.5 1525.2 1000.2 C1525.6 991.9 1526 983.4 1526.4 974.7 C1526.8 966 1527.2 957.1 1527.6 947.9 C1528 938.8 1528.4 929.5 1528.8 919.9 C1529.2 910.4 1529.6 900.7 1530 890.8 C1530.4 880.8 1530.8 870.7 1531.2 860.4 C1531.6 850.2 1532 839.7 1532.4 829.1 C1532.8 818.5 1533.2 807.7 1533.6 796.8 C1534 785.9 1534.4 774.8 1534.8 763.7 C1535.2 752.5 1535.6 741.2 1536 729.8 C1536.4 718.4 1536.8 706.9 1537.2 695.4 C1537.6 683.8 1538 672.2 1538.4 660.5 C1538.8 648.9 1539.2 637.1 1539.6 625.4 C1540 613.6 1540.4 601.9 1540.8 590.1 C1541.2 578.4 1541.6 566.6 1542 555 C1542.4 543.3 1542.8 531.6 1543.2 520.1 C1543.6 508.5 1544 497 1544.4 485.6 C1544.8 474.2 1545.2 463 1545.6 451.8 C1546 440.7 1546.4 429.7 1546.8 418.9 C1547.2 408.2 1547.6 397.5 1548 387.1 C1548.4 376.7 1548.9 364.5 1549.2 356.6 C1549.5 348.6 1549.5 349.9 1549.9 339.4 C1550.3 329 1551.2 308 1551.9 293.6 C1552.6 279.2 1553.2 265.6 1553.9 253.2 C1554.6 240.7 1555.2 229.1 1555.9 218.8 C1556.6 208.5 1557.2 199.3 1557.9 191.4 C1558.6 183.4 1559.2 176.7 1559.9 171.3 C1560.6 165.9 1561.2 161.8 1561.9 159.1 C1562.6 156.4 1563.2 155 1563.9 155 C1564.6 155 1565.2 156.4 1565.9 159.1 C1566.6 161.8 1567.2 165.9 1567.9 171.3 C1568.6 176.7 1569.2 183.4 1569.9 191.4 C1570.6 199.3 1571.2 208.5 1571.9 218.8 C1572.6 229.1 1573.2 240.7 1573.9 253.2 C1574.6 265.6 1575.2 279.2 1575.9 293.6 C1576.6 308 1577.5 330.1 1577.9 339.4 C1578.3 348.8 1578.1 345.4 1578.3 349.4 C1578.4 353.4 1578.7 358.8 1578.8 363.4 C1579 368.1 1579.2 372.8 1579.4 377.4 C1579.6 382.1 1579.8 386.8 1579.9 391.4 C1580.1 396.1 1580.3 400.8 1580.5 405.4 C1580.6 410.1 1580.8 414.8 1581 419.4 C1581.2 424.1 1581.3 428.8 1581.5 433.4 C1581.7 438.1 1581.8 442.8 1582 447.4 C1582.2 452.1 1582.3 456.8 1582.5 461.4 C1582.7 466.1 1582.8 470.8 1583 475.4 C1583.2 480.1 1583.3 484.8 1583.5 489.4 C1583.7 494.1 1583.8 498.8 1584 503.4 C1584.1 508.1 1584.3 512.8 1584.5 517.4 C1584.6 522.1 1584.8 526.8 1584.9 531.4 C1585.1 536.1 1585.3 540.8 1585.4 545.4 C1585.6 550.1 1585.7 554.8 1585.9 559.4 C1586.1 564.1 1586.2 568.8 1586.4 573.4 C1586.5 578.1 1586.7 582.8 1586.9 587.4 C1587 592.1 1587.2 596.8 1587.3 601.4 C1587.5 606.1 1587.6 610.8 1587.8 615.4 C1588 620.1 1588.1 624.8 1588.3 629.4 C1588.4 634.1 1588.6 638.8 1588.8 643.4 C1588.9 648.1 1589.1 652.8 1589.2 657.4 C1589.4 662.1 1589.5 666.8 1589.7 671.4 C1589.9 676.1 1590 680.8 1590.2 685.4 C1590.3 690.1 1590.5 694.8 1590.7 699.4 C1590.8 704.1 1591 708.8 1591.2 713.4 C1591.3 718.1 1591.5 722.8 1591.6 727.4 C1591.8 732.1 1592 736.8 1592.1 741.4 C1592.3 746.1 1592.5 750.8 1592.6 755.4 C1592.8 760.1 1593 764.8 1593.1 769.4 C1593.3 774.1 1593.5 778.8 1593.6 783.4 C1593.8 788.1 1594 792.8 1594.1 797.4 C1594.3 802.1 1594.5 806.8 1594.7 811.4 C1594.8 816.1 1595 820.8 1595.2 825.4 C1595.3 830.1 1595.5 834.8 1595.7 839.4 C1595.9 844.1 1596.1 848.8 1596.2 853.4 C1596.4 858.1 1596.6 862.8 1596.8 867.4 C1597 872.1 1597.1 876.8 1597.3 881.4 C1597.5 886.1 1597.7 890.8 1597.9 895.4 C1598.1 900.1 1598.3 904.8 1598.5 909.4 C1598.7 914.1 1599 918.8 1599.2 923.4 C1599.4 928.1 1599.7 932.8 1599.9 937.4 C1600.1 942.1 1600.4 946.8 1600.6 951.4 C1600.8 956.1 1601.1 960.8 1601.3 965.4 C1601.6 970.1 1601.8 974.8 1602.1 979.4 C1602.3 984.1 1602.6 988.8 1602.8 993.4 C1603.1 998.1 1603.3 1002.8 1603.6 1007.4 C1603.8 1012.1 1604.1 1016.8 1604.3 1021.4 C1604.6 1026.1 1604.9 1030.8 1605.1 1035.4 C1605.4 1040.1 1605.7 1044.8 1606 1049.4 C1606.2 1054.1 1606.5 1058.8 1606.8 1063.4 C1607.1 1068.1 1607.5 1072.8 1607.8 1077.4 C1608.1 1082.1 1608.5 1086.8 1608.8 1091.4 C1609.2 1096.1 1609.5 1100.8 1609.9 1105.4 C1610.3 1110.1 1610.7 1114.8 1611.1 1119.4 C1611.5 1124.1 1612 1128.8 1612.4 1133.4 C1612.8 1138.1 1613.3 1142.8 1613.7 1147.4 C1614.2 1152.1 1614.7 1157.9 1615.1 1161.4 C1615.4 1164.9 1615.6 1166.1 1615.8 1168.4 C1616.1 1170.8 1616.3 1173.1 1616.6 1175.4 C1616.9 1177.8 1617.2 1180.1 1617.5 1182.4 C1617.8 1184.8 1618.1 1187.1 1618.4 1189.4 C1618.7 1191.8 1619 1194.1 1619.3 1196.4 C1619.7 1198.8 1620.2 1201.1 1620.7 1203.4 C1621.1 1205.8 1621.7 1208.1 1622.2 1210.4 C1622.8 1212.8 1623.3 1215.1 1623.9 1217.4 C1624.5 1219.8 1625.1 1222.1 1625.9 1224.4 C1626.6 1226.8 1626.2 1227.5 1628.4 1231.4 C1630.5 1235.4 1634.6 1242.4 1638.8 1248.4 C1643 1254.4 1648.7 1261.8 1653.7 1267.7 C1658.7 1273.7 1663.6 1279.4 1668.6 1284.1 C1673.6 1288.8 1678.5 1293 1683.5 1296 C1688.5 1299 1692.3 1300.4 1698.4 1302 C1704.5 1303.6 1708.2 1304.9 1720 1305.7 C1731.8 1306.5 1750.3 1306.7 1768.9 1307 C1787.5 1307.3 1809.7 1307.6 1831.7 1307.8 C1853.7 1308 1888.3 1308.2 1900.7 1308.3 C1913.1 1308.4 1905.1 1308.3 1906 1308.3" stroke="#383838" stroke-opacity="0.75"/>
</g>
<g stroke="#c4c4c4" stroke-width="1.2" stroke-dasharray="9 5" fill="none">
<path d="M485.4 1236 V1318"/>
<path d="M667.5 1234 V1318"/>
</g>
<path d="M1564 53.1 V1317" stroke="#8e8e8e" stroke-width="5.8" stroke-dasharray="13.8 8.52" fill="none"/>
<text class="b" font-size="74" text-anchor="end" transform="translate(279.5 1337.6) scale(1.000 1.050)">0</text>
<text class="b" font-size="74" text-anchor="end" transform="translate(279.5 1125.5) scale(1.000 1.050)">2</text>
<text class="b" font-size="74" text-anchor="end" transform="translate(279.5 913.4) scale(1.000 1.050)">4</text>
<text class="b" font-size="74" text-anchor="end" transform="translate(279.5 701.4) scale(1.000 1.050)">6</text>
<text class="b" font-size="74" text-anchor="end" transform="translate(279.5 489.3) scale(1.000 1.050)">8</text>
<text class="b" font-size="74" text-anchor="end" transform="translate(279.5 277.2) scale(1.000 1.050)">10</text>
<text class="b" font-size="74" text-anchor="end" transform="translate(279.5 65.1) scale(1.000 1.050)">12</text>
<text class="b" font-size="74" text-anchor="middle" transform="translate(652.5 1416.7) scale(1.000 1.050)">0.5</text>
<text class="b" font-size="74" text-anchor="middle" transform="translate(1019.7 1416.7) scale(1.000 1.050)">1.0</text>
<text class="b" font-size="74" text-anchor="middle" transform="translate(1386.9 1416.7) scale(1.000 1.050)">1.5</text>
<text class="b" font-size="74" text-anchor="middle" transform="translate(1754.1 1416.7) scale(1.000 1.050)">2.0</text>
<text class="b" font-size="108" text-anchor="middle" transform="translate(1111.5 1563.8) scale(0.996 1.030)">Energy (keV)</text>
<text class="b" font-size="107" text-anchor="middle" transform="translate(145.6 679) rotate(-90) scale(1.005 1.030)">Counts <tspan font-weight="400" dy="8.3">×</tspan><tspan dy="-8.3"> 1000 (a.u.)</tspan></text>
<text font-size="62" text-anchor="middle" transform="translate(478.2 1223) scale(1.000 1.070)" stroke="#000" stroke-width="2.3" stroke-linejoin="round">C</text>
<text font-size="62" text-anchor="middle" transform="translate(631.6 1223.4) scale(1.000 1.070)" stroke="#000" stroke-width="2.3" stroke-linejoin="round">O</text>
<text class="b" font-size="67" text-anchor="middle" transform="translate(1497.3 153.2) scale(1.000 1.030)">Si</text>
</svg>
</body></html>
